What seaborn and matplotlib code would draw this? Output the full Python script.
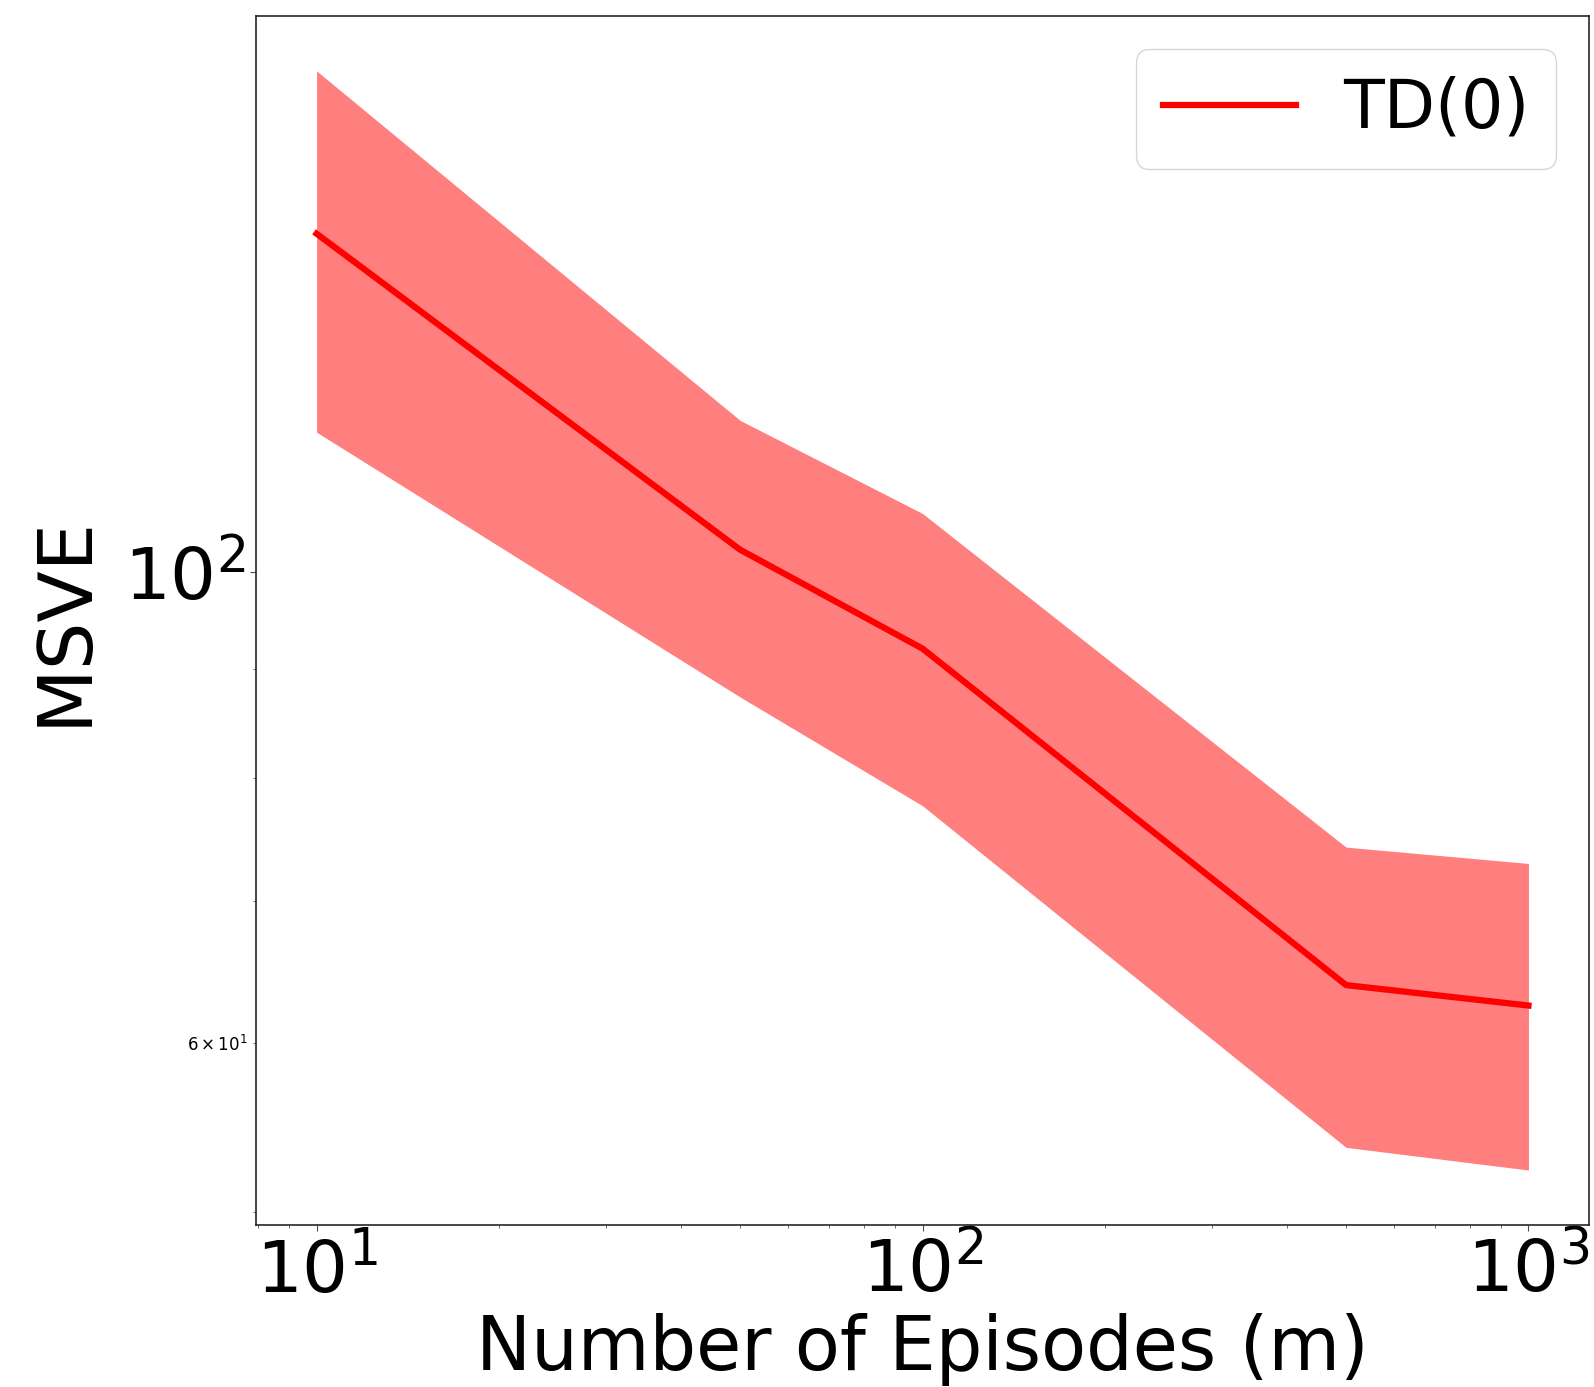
import numpy as np
import pandas as pd
import matplotlib
matplotlib.use("Agg")
import matplotlib.pyplot as plt
import seaborn as sns
from matplotlib.ticker import LogFormatterSciNotation

episodes = [10, 50, 100, 500, 1000]
msve_mean = [144.2, 102.4, 92.0, 63.9, 62.5]
msve_upper = [172.0, 117.8, 106.5, 74.2, 72.9]
msve_lower = [116.3, 87.3, 77.6, 53.6, 52.3]
series_label = "TD(0)"

df = pd.DataFrame({"m": episodes, "msve": msve_mean})

sns.set_style("white")
plt.rcParams['font.family'] = ['DejaVu Sans']
plt.rcParams.update({"text.color": "black", "axes.labelcolor": "black",
                     "xtick.labelcolor": "black", "ytick.labelcolor": "black"})

fig = plt.figure(figsize=(15.94, 13.87), dpi=100)
ax = fig.add_axes([0.1606, 0.1168, 0.8363, 0.8717])

ax.fill_between(episodes, msve_lower, msve_upper, color="red", alpha=0.5, linewidth=0)
sns.lineplot(data=df, x="m", y="msve", ax=ax, color="red", linewidth=4.5, label=series_label)
for ln in ax.get_lines():
    ln.set_solid_capstyle("projecting")

ax.set_xscale("log")
ax.set_yscale("log")
ax.set_xlabel("Number of Episodes (m)", fontsize=53)
ax.set_ylabel("MSVE", fontsize=54, labelpad=16)
ax.tick_params(axis="both", which="major", labelsize=52, length=4, color="0.3")
ax.tick_params(axis="both", which="minor", labelsize=12, length=2.5, color="0.3")
ax.tick_params(axis="both", which="both", bottom=True, left=True)
ax.yaxis.set_minor_formatter(LogFormatterSciNotation(labelOnlyBase=False, minor_thresholds=(2, 0.4)))
for s in ax.spines.values():
    s.set_color("0.15")
    s.set_linewidth(1.2)

leg = ax.legend(loc="upper right", fontsize=48, frameon=True, handletextpad=0.7)
for h in leg.get_lines():
    h.set_solid_capstyle("projecting")

fig.savefig("out.png", dpi=100)
